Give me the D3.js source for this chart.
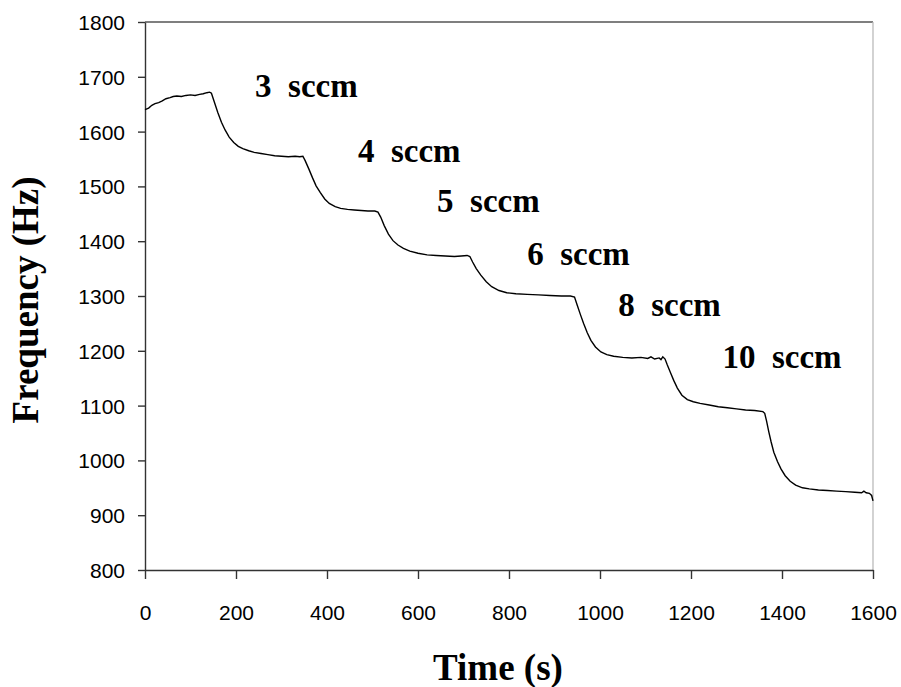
<!DOCTYPE html>
<meta charset="utf-8">
<style>
body { margin: 0; background: #fff; }
.tick text { font-family: 'Liberation Sans', Arial, sans-serif; font-size: 21px; fill: #000; }
.title { font-family: 'Liberation Serif', 'Times New Roman', serif; font-weight: bold; font-size: 37px; }
.flow { font-family: 'Liberation Serif', 'Times New Roman', serif; font-weight: bold; font-size: 33px; white-space: pre; }
</style>
<body>
<svg class="chart"></svg>
<script src="https://d3js.org/d3.v7.min.js"></script>
<script>
// chart size
let rwidth = 901, rheight = 687;
let margin = {top: 22, bottom: 117, left: 145, right: 28};

// time (s) and frequency (Hz)
let times = [0,8,15,22,30,38,46,55,62,70,80,90,100,110,120,128,136,142,146,
  152,160,168,176,185,195,205,215,228,240,255,270,285,300,315,330,340,347,
  352,360,368,376,385,395,405,418,430,445,460,475,490,505,512,
  518,526,535,545,556,568,582,600,620,640,660,680,695,708,714,
  720,728,738,750,762,778,795,815,840,865,890,915,935,944,
  950,957,964,972,980,990,1002,1015,1030,1050,1070,1090,1105,1112,1120,1130,1134,1138,1143,
  1148,1155,1162,1170,1180,1192,1205,1220,1240,1260,1280,1300,1320,1340,1358,1362,
  1366,1371,1376,1382,1390,1398,1407,1418,1430,1445,1460,1480,1500,1520,1540,1560,1575,1580,1585,1592,1597,1600];
let freqs = [1640,1643,1648,1651,1653,1656,1660,1662,1664,1665,1664,1666,1667,1666,1668,1669,1671,1672,1670,
  1655,1635,1617,1603,1590,1580,1573,1569,1565,1562,1560,1558,1556,1555,1554,1555,1554,1555,
  1547,1532,1516,1501,1489,1477,1469,1463,1460,1458,1457,1456,1455,1455,1453,
  1444,1428,1413,1401,1393,1387,1382,1378,1375,1374,1373,1372,1373,1374,1372,
  1362,1350,1338,1326,1317,1310,1306,1304,1303,1302,1301,1300,1300,1298,
  1283,1266,1250,1233,1219,1207,1198,1193,1190,1188,1187,1188,1186,1189,1185,1187,1184,1189,1185,
  1174,1160,1146,1132,1119,1111,1107,1104,1101,1098,1096,1094,1092,1091,1089,1086,
  1072,1052,1034,1015,998,984,972,962,955,950,948,946,945,944,943,942,941,944,941,940,936,926];

// flow rate labels (start time, frequency at baseline)
let flowLabels = ['3  sccm','4  sccm','5  sccm','6  sccm','8  sccm','10  sccm'];
let flowX = [242,468,642,840,1040,1269];
let flowY = [1663,1545,1453,1357,1264,1169];

let xTicks = d3.range(0, 1601, 200);
let yTicks = d3.range(800, 1801, 100);

let svg = d3.select('.chart').attr('width', rwidth).attr('height', rheight);

let xscale = d3.scaleLinear().domain([0,1600]).range([margin.left, rwidth-margin.right]);
let yscale = d3.scaleLinear().domain([800,1800]).range([rheight-margin.bottom, margin.top]);

// plot frame: top and right edges
svg.append('line')
   .attr('x1', xscale(0)).attr('x2', xscale(1600))
   .attr('y1', yscale(1800)).attr('y2', yscale(1800))
   .attr('stroke','#555').attr('stroke-width',1.3);
svg.append('line')
   .attr('x1', xscale(1600)).attr('x2', xscale(1600))
   .attr('y1', yscale(1800)).attr('y2', yscale(800))
   .attr('stroke','#bbb').attr('stroke-width',1.3);

let xaxis = svg.append('g').attr('transform',`translate(0,${yscale(800)})`)
   .call(d3.axisBottom(xscale).tickValues(xTicks).tickFormat(d3.format('d'))
         .tickSize(9).tickSizeOuter(0).tickPadding(26));
let yaxis = svg.append('g').attr('transform',`translate(${xscale(0)},0)`)
   .call(d3.axisLeft(yscale).tickValues(yTicks).tickFormat(d3.format('d'))
         .tickSize(7).tickSizeOuter(0).tickPadding(13));
svg.selectAll('.domain, .tick line').attr('stroke','#333').attr('stroke-width',1.4);
yaxis.selectAll('.tick text').attr('dy','0.36em');

let line = d3.line()
   .x((d,i) => xscale(times[i]))
   .y(d => yscale(d));

svg.append('path')
   .datum(freqs)
   .attr('d', line)
   .attr('fill','none')
   .attr('stroke','#000')
   .attr('stroke-width',1.4);

svg.selectAll('.flow')
   .data(flowLabels)
   .join('text')
   .attr('class','flow')
   .attr('x',(d,i) => xscale(flowX[i]))
   .attr('y',(d,i) => yscale(flowY[i]))
   .text(d => d);

svg.append('text').attr('class','title')
   .attr('x', 498).attr('y', 680)
   .attr('text-anchor','middle')
   .text('Time (s)');

svg.append('text').attr('class','title')
   .attr('transform','translate(38,300) rotate(-90)')
   .attr('text-anchor','middle')
   .text('Frequency (Hz)');
</script>
</body>
